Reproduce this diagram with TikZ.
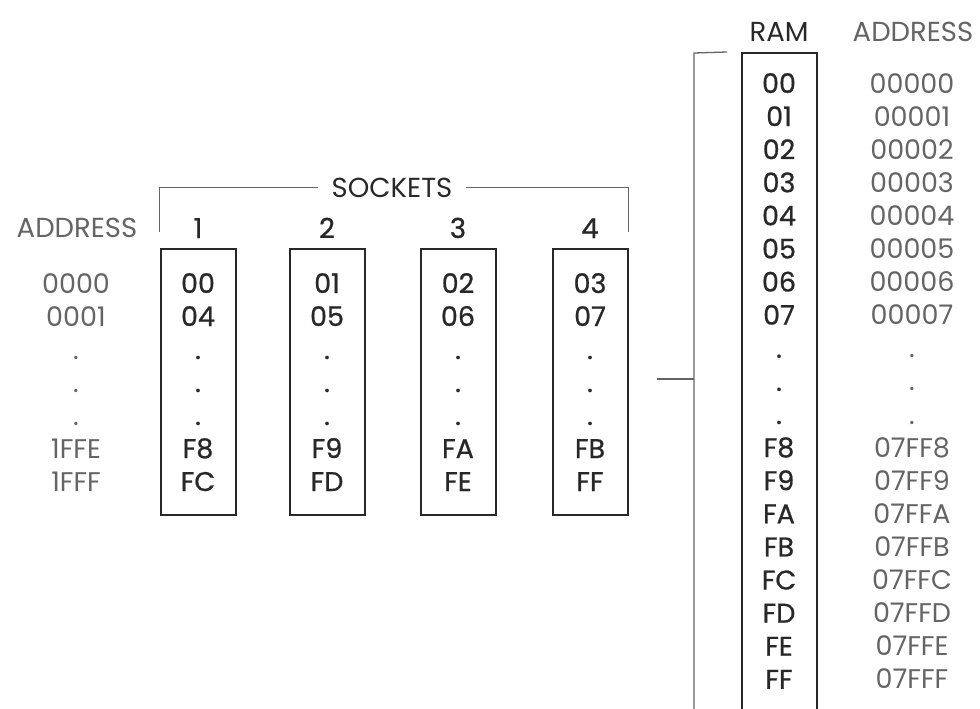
\documentclass[tikz,border=0pt]{standalone}
\usepackage{fontspec}
\setmainfont{Poppins}
\newfontfamily\heavyfont{Poppins}[FakeBold=0.8]
\usetikzlibrary{positioning}
\definecolor{ink}{RGB}{40,40,40}
\definecolor{greyink}{RGB}{100,100,100}

\begin{document}
\begin{tikzpicture}[
  x=1pt, y=-1pt,
  chip/.style={rectangle, draw=ink, line width=2pt, minimum width=75pt, inner sep=0pt},
  val/.style={anchor=base, inner sep=0pt, text=ink, font=\heavyfont\fontsize{27}{27}\selectfont},
  addr/.style={anchor=base, inner sep=0pt, text=greyink, font=\fontsize{27}{27}\selectfont},
  head/.style={anchor=base, inner sep=0pt, font=\fontsize{27.5}{27.5}\selectfont},
  bracket/.style={draw=greyink, line width=1.3pt}
]
  \useasboundingbox (0,0) rectangle (980,709);

  % sockets
  \foreach \i/\x in {1/198,2/327,3/458,4/590} {
    \node[chip, minimum height=266pt] (sock\i) at (\x,382) {};
    \node[head, text=ink, font=\heavyfont\fontsize{27.5}{27.5}\selectfont] (num\i) at (\x,238) {\i};
  }
  \foreach \i/\x/\a/\b/\c/\d in {1/198/00/04/F8/FC, 2/327/01/05/F9/FD, 3/458/02/06/FA/FE, 4/590/03/07/FB/FF} {
    \foreach \v [count=\k from 0] in {\a,\b,.,.,.,\c,\d}
      \node[val] (s\i v\k) at (\x,{293+33*\k}) {\v};
  }
  \node[head, text=greyink] (leftaddr) at (77,237) {ADDRESS};
  \foreach \v [count=\k from 0] in {0000,0001,.,.,.,1FFE,1FFF}
    \node[addr] (la\k) at (76,{293+33*\k}) {\v};

  \node[head, text=ink, inner xsep=14pt] (sockets) at (392,197) {SOCKETS};
  \draw[bracket] ([yshift=16pt]sock1.north west) |- (sockets.west);
  \draw[bracket] (sockets.east) -| ([yshift=16pt]sock4.north east);

  % ram
  \node[chip, minimum height=700pt] (ram) at (779.5,403) {};
  \node[head, text=ink] (ramlbl) at (779,42) {RAM};
  \node[head, text=greyink] (rightaddr) at (913,42) {ADDRESS};
  \foreach \v [count=\k from 0] in {00,01,02,03,04,05,06,07,.,.,.,F8,F9,FA,FB,FC,FD,FE,FF}
    \node[val] (r\k) at (779,{93+33.1*\k}) {\v};
  \foreach \v [count=\k from 0] in {00000,00001,00002,00003,00004,00005,00006,00007,.,.,.,07FF8,07FF9,07FFA,07FFB,07FFC,07FFD,07FFE,07FFF}
    \node[addr] (ra\k) at (912,{93+33.1*\k}) {\v};

  \coordinate (spinetop) at (694,53);
  \coordinate (spineend) at (694,720);
  \coordinate (tap) at (657,379);
  \draw[bracket] ([xshift=-14pt]ram.north west) -- (spinetop) -- (spineend);
  \draw[bracket] (tap) -- (tap -| spinetop);
\end{tikzpicture}
\end{document}
